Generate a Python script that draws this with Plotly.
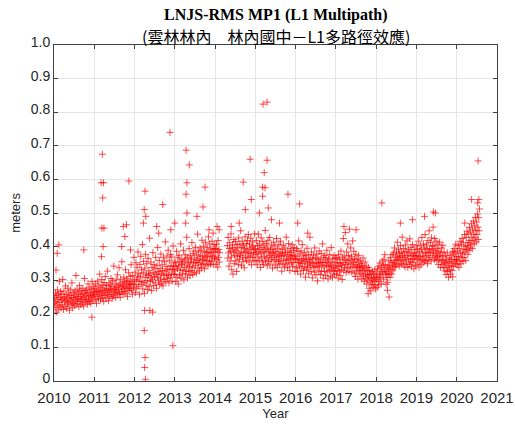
import plotly.graph_objects as go

# ---- Data: RMS MP1 in millimetres, ~100 samples per year, evenly spaced within each year ----
mp1_2010_mm = [231, 248, 219, 262, 237, 205, 254, 226, 271, 243,
               212, 258, 234, 297, 223, 249, 266, 218, 241, 259,
               227, 302, 245, 213, 268, 236, 251, 222, 283, 240,
               257, 216, 247, 233, 276, 229, 262, 244, 211, 255,
               238, 271, 226, 249, 292, 235, 218, 263, 247, 231,
               256, 224, 268, 242, 314, 251, 229, 273, 238, 259,
               246, 221, 265, 284, 237, 252, 227, 269, 243, 258,
               232, 276, 249, 223, 261, 305, 244, 268, 235, 254,
               271, 239, 262, 228, 289, 251, 243, 277, 236, 264,
               255, 231, 273, 248, 296, 259, 238, 282, 253, 267]
mp1_2011_mm = [258, 276, 243, 289, 264, 231, 271, 252, 297, 267,
               245, 283, 259, 318, 266, 241, 279, 255, 302, 271,
               248, 286, 262, 237, 293, 269, 254, 311, 275, 246,
               284, 263, 327, 257, 271, 239, 292, 268, 251, 286,
               273, 305, 258, 281, 246, 298, 267, 253, 342, 276,
               262, 289, 271, 248, 301, 279, 264, 316, 257, 285,
               272, 337, 261, 288, 249, 303, 281, 266, 355, 274,
               292, 258, 283, 309, 267, 296, 278, 331, 262, 289,
               304, 275, 252, 298, 283, 322, 269, 291, 276, 311,
               287, 346, 271, 296, 258, 314, 289, 277, 368, 301]
mp1_2012_mm = [287, 324, 263, 352, 301, 276, 338, 309, 384, 282,
               319, 296, 258, 347, 312, 371, 288, 331, 297, 406,
               274, 322, 356, 293, 261, 336, 308, 377, 285, 318,
               349, 299, 272, 365, 314, 328, 281, 425, 319, 296,
               354, 307, 269, 338, 301, 382, 323, 284, 347, 311,
               334, 292, 368, 317, 276, 343, 309, 397, 326, 298,
               321, 359, 287, 335, 304, 378, 318, 291, 346, 329,
               283, 367, 314, 302, 355, 327, 414, 296, 341, 318,
               372, 306, 333, 389, 315, 292, 358, 331, 307, 376,
               344, 316, 369, 297, 332, 402, 341, 319, 354, 328]
mp1_2013_mm = [317, 352, 296, 341, 386, 308, 334, 367, 289, 343,
               374, 315, 356, 329, 408, 306, 347, 362, 318, 351,
               331, 389, 301, 357, 338, 376, 319, 364, 327, 428,
               345, 307, 368, 352, 326, 394, 341, 314, 373, 355,
               329, 362, 412, 338, 317, 379, 351, 387, 324, 366,
               343, 398, 353, 321, 375, 359, 437, 336, 384, 352,
               363, 328, 396, 371, 346, 389, 337, 419, 358, 374,
               349, 401, 362, 334, 385, 368, 413, 347, 382, 359,
               397, 371, 343, 429, 384, 356, 408, 372, 348, 393,
               381, 357, 416, 369, 392, 346, 383, 406, 365, 394]
mp1_2014_mm = [372, 394, 348, 407, 361, 386, 339, 418, 368, 391, 354, 382,
               None, None, None, None, None, None, None, None, None,
               None, None, None, None, None, None, None, None, None,
               403, 366, 427, 381, 342, 394, 412, 357, 386, 438,
               369, 331, 397, 405, 318, 383, 421, 349, 374, 392,
               415, 358, 387, 326, 406, 371, 396, 347, 426, 379,
               362, 408, 373, 447, 384, 343, 397, 416, 368, 355,
               404, 382, 337, 395, 429, 366, 385, 409, 358, 391,
               418, 372, 436, 379, 354, 407, 393, 369, 425, 381,
               346, 398, 414, 367, 402, 383, 359, 438, 391, 376]
mp1_2015_mm = [394, 357, 418, 381, 346, 403, 369, 437, 385, 359,
               408, 392, 338, 379, 426, 366, 397, 354, 415, 383,
               347, 404, 371, 392, 448, 358, 386, 409, 367, 343,
               396, 419, 356, 384, 373, 427, 348, 393, 379, 362,
               405, 368, 336, 391, 382, 413, 357, 374, 402, 345,
               386, 361, 424, 369, 338, 395, 378, 356, 407, 371,
               349, 384, 416, 358, 373, 327, 392, 381, 346, 404,
               363, 375, 339, 396, 382, 351, 428, 359, 371, 337,
               387, 362, 409, 348, 376, 329, 394, 365, 383, 352,
               374, 406, 341, 366, 388, 353, 397, 372, 326, 361]
mp1_2016_mm = [372, 338, 394, 361, 327, 386, 353, 417, 364, 342,
               378, 349, 318, 387, 359, 336, 406, 351, 372, 329,
               364, 383, 341, 356, 309, 374, 362, 331, 395, 348,
               337, 376, 319, 361, 352, 428, 343, 366, 326, 384,
               354, 307, 363, 338, 375, 349, 324, 396, 341, 367,
               316, 352, 378, 339, 298, 364, 351, 328, 387, 342,
               361, 317, 354, 379, 326, 345, 408, 353, 306, 368,
               339, 327, 374, 352, 314, 366, 343, 389, 325, 357,
               304, 362, 341, 329, 376, 348, 312, 343, 397, 331,
               354, 309, 365, 338, 326, 373, 318, 352, 336, 367]
mp1_2017_mm = [343, 318, 364, 329, 352, 306, 376, 341, 327, 362,
               314, 349, 387, 331, 344, 302, 367, 353, 424, 328,
               372, 338, 361, 442, 347, 323, 384, 359, 336, 408,
               351, 374, 326, 452, 363, 339, 396, 348, 371, 324,
               358, 417, 337, 353, 386, 321, 364, 342, 311, 377,
               346, 327, 362, 338, 303, 354, 373, 329, 341, 316,
               358, 336, 321, 349, 304, 343, 328, 366, 312, 337,
               297, 331, 354, 318, 306, 342, 289, 327, 315, 301,
               338, 309, 276, 329, 317, 294, 268, 321, 305, 287,
               326, 298, 279, 317, 308, 286, 331, 297, 274, 312]
mp1_2018_mm = [302, 321, 279, 334, 308, 286, 342, 296, 318, 351,
               307, 327, 289, 338, 316, 357, 324, 344, 303, 362,
               331, 376, 347, 319, 288, 326, 308, 339, 294, 317,
               336, 358, 321, 343, 309, 367, 332, 354, 318, 376,
               345, 328, 381, 352, 337, 396, 359, 341, 372, 349,
               384, 361, 413, 368, 346, 392, 363, 379, 342, 371,
               403, 357, 384, 349, 428, 373, 358, 394, 346, 381,
               368, 339, 405, 362, 386, 351, 417, 374, 338, 392,
               363, 384, 347, 423, 372, 356, 397, 341, 379, 362,
               406, 353, 374, 334, 391, 365, 382, 343, 371, 402]
mp1_2019_mm = [374, 348, 393, 361, 416, 372, 339, 386, 358, 404,
               369, 346, 392, 427, 363, 381, 352, 408, 371, 396,
               357, 436, 383, 359, 405, 374, 394, 349, 418, 381,
               362, 447, 391, 368, 412, 384, 357, 426, 393, 401,
               373, 458, 381, 403, 361, 424, 389, 367, 416, 378,
               359, 394, 371, 407, 347, 386, 362, 413, 374, 338,
               382, 357, 396, 346, 371, 404, 359, 337, 384, 352,
               328, 373, 349, 317, 362, 338, 381, 326, 354, 309,
               342, 367, 331, 356, 318, 374, 343, 362, 329, 386,
               351, 378, 341, 394, 362, 383, 349, 407, 371, 358]
mp1_2020_mm = [362, 387, 346, 403, 371, 338, 394, 357, 416, 381,
               349, 407, 368, 424, 379, 356, 413, 392, 367, 436,
               384, 401, 359, 427, 391, 446, 403, 377, 438, 412,
               389, 457, 418, 396, 443, 407, 468, 428, 394, 452,
               419, 476, 437, 408, 462, 426, 487, 448, 414, 473,
               436, 497, 458, 421, 486, 447, 512]

series_by_year = {2010: mp1_2010_mm, 2011: mp1_2011_mm, 2012: mp1_2012_mm,
                  2013: mp1_2013_mm, 2014: mp1_2014_mm, 2015: mp1_2015_mm,
                  2016: mp1_2016_mm, 2017: mp1_2017_mm, 2018: mp1_2018_mm,
                  2019: mp1_2019_mm, 2020: mp1_2020_mm}
samples_per_year = 100

# Isolated outlier days (decimal year, metres)
outlier_years = [2010.05, 2010.08, 2010.12, 2010.74, 2010.94,
                 2011.20, 2011.17, 2011.23, 2011.21, 2011.19, 2011.24, 2011.22, 2011.18,
                 2011.72, 2011.80, 2011.76, 2011.86, 2011.68, 2011.90,
                 2012.26, 2012.24, 2012.28, 2012.22, 2012.25, 2012.45, 2012.38, 2012.24,
                 2012.26, 2012.25, 2012.27, 2012.55, 2012.70, 2012.88, 2012.95, 2012.60, 2012.90,
                 2013.28, 2013.36, 2013.30, 2013.28, 2013.75, 2013.30, 2013.27, 2013.70,
                 2013.00, 2013.55, 2013.85, 2013.95,
                 2014.70, 2014.87, 2014.60, 2014.75, 2014.90, 2014.40, 2014.05, 2014.10,
                 2015.19, 2015.29, 2015.29, 2015.22, 2015.18, 2015.24, 2015.18, 2015.32,
                 2015.81, 2015.10, 2015.40, 2015.60,
                 2016.10, 2016.05, 2016.30,
                 2017.80, 2017.20, 2017.50,
                 2018.14, 2018.32, 2018.28, 2018.60, 2018.90,
                 2019.42, 2019.47, 2019.20, 2019.90,
                 2020.53, 2020.37, 2020.55, 2020.52, 2020.20]
outlier_values = [0.33, 0.38, 0.405, 0.39, 0.19,
                  0.675, 0.59, 0.59, 0.545, 0.455, 0.455, 0.40, 0.37,
                  0.46, 0.465, 0.43, 0.595, 0.40, 0.39,
                  0.565, 0.51, 0.49, 0.47, 0.21, 0.205, 0.21, 0.15,
                  0.07, 0.04, 0.005, 0.46, 0.525, 0.74, 0.105, 0.44, 0.45,
                  0.687, 0.643, 0.59, 0.556, 0.577, 0.50, 0.47, 0.518,
                  0.47, 0.49, 0.45, 0.44,
                  0.592, 0.66, 0.47, 0.51, 0.54, 0.46, 0.46, 0.45,
                  0.824, 0.83, 0.657, 0.62, 0.577, 0.575, 0.55, 0.515,
                  0.556, 0.50, 0.48, 0.47,
                  0.527, 0.47, 0.44,
                  0.26, 0.46, 0.45,
                  0.53, 0.25, 0.27, 0.47, 0.48,
                  0.503, 0.50, 0.49, 0.31,
                  0.655, 0.54, 0.54, 0.53, 0.47]

x_ticks = list(range(2010, 2022))
y_ticks = [0, 0.1, 0.2, 0.3, 0.4, 0.5, 0.6, 0.7, 0.8, 0.9, 1.0]
y_tick_text = ["0", "0.1", "0.2", "0.3", "0.4", "0.5", "0.6", "0.7", "0.8", "0.9", "1.0"]

title_line1 = "LNJS-RMS MP1 (L1 Multipath)"
title_line2 = "(雲林林內　林內國中－L1多路徑效應)"

# ---- Build points ----
xs, ys = [], []
for yr, vals in series_by_year.items():
    for i, v in enumerate(vals):
        if v is None:
            continue
        xs.append(yr + (i + 0.5) / samples_per_year)
        ys.append(v / 1000.0)
xs += outlier_years
ys += outlier_values

marker = dict(symbol="cross-thin", size=5, color="rgba(255,0,0,0.7)",
              line=dict(color="rgba(255,0,0,0.7)", width=1))

fig = go.Figure()
fig.add_trace(go.Scatter(x=xs, y=ys, mode="markers", marker=marker,
                         showlegend=False, hoverinfo="x+y"))

axis_common = dict(showline=True, linecolor="#404040", linewidth=1, mirror="ticks",
                   ticks="inside", ticklen=4, tickcolor="#404040",
                   showgrid=True, gridcolor="#e6e6e6", gridwidth=1, zeroline=False,
                   automargin=False)

fig.update_xaxes(range=[2010, 2021], tickvals=x_ticks,
                 ticktext=[str(t) for t in x_ticks],
                 tickfont=dict(family="Liberation Sans, Arial", size=15, color="#262626"),
                 ticklabelstandoff=3,
                 title=dict(text="Year", font=dict(family="Liberation Sans, Arial", size=13, color="#262626"),
                            standoff=3),
                 **axis_common)
fig.update_yaxes(range=[0, 1], tickvals=y_ticks, ticktext=y_tick_text,
                 tickfont=dict(family="Liberation Sans, Arial", size=14, color="#262626"),
                 ticklabelshift=-3,
                 title=dict(text="meters", font=dict(family="Liberation Sans, Arial", size=13, color="#262626"),
                            standoff=7),
                 **axis_common)

fig.update_layout(
    width=515, height=427,
    margin=dict(l=54, r=18, t=45, b=46),
    paper_bgcolor="white", plot_bgcolor="white",
    annotations=[
        dict(text="<b>" + title_line1 + "</b>", xref="paper", yref="paper",
             x=0.5, y=1, yshift=30, xanchor="center", yanchor="middle", showarrow=False,
             font=dict(family="Liberation Serif, Times New Roman", size=16, color="black")),
        dict(text=title_line2, xref="paper", yref="paper",
             x=0.5, y=1, yshift=9, xanchor="center", yanchor="middle", showarrow=False,
             font=dict(family="Noto Sans CJK TC", size=16, color="black")),
    ],
)

# remove the default page margin so the 515x427 figure fills the window exactly
fig.write_html("out.html", config={"displayModeBar": False},
               post_script="document.body.style.margin='0';document.body.style.overflow='hidden';")
